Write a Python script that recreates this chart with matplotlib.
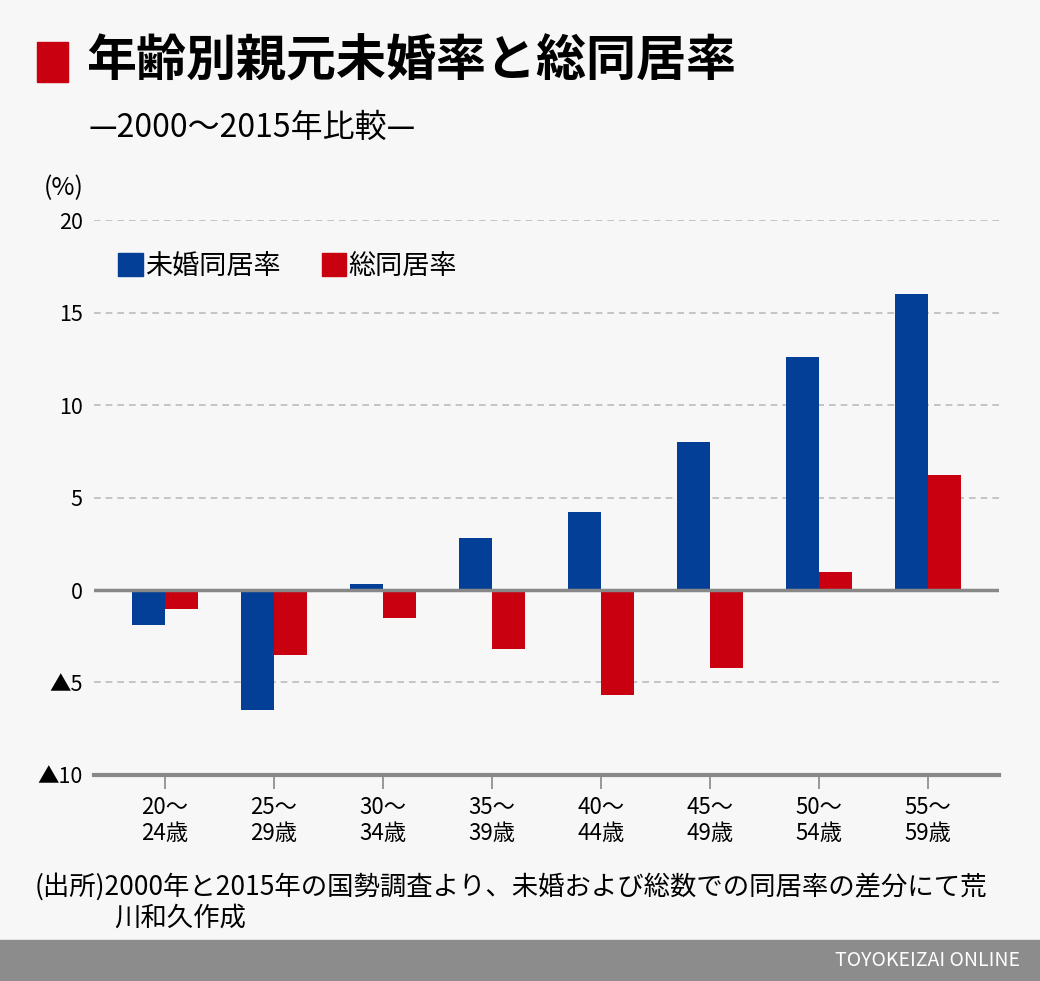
import matplotlib.pyplot as plt
from matplotlib.patches import Patch, Rectangle
import numpy as np

plt.rcParams['font.family'] = ['Noto Sans CJK JP', 'DejaVu Sans']

# data
ages = ["20〜\n24歳", "25〜\n29歳", "30〜\n34歳", "35〜\n39歳",
        "40〜\n44歳", "45〜\n49歳", "50〜\n54歳", "55〜\n59歳"]
unmarried = [-1.9, -6.5, 0.3, 2.8, 4.2, 8.0, 12.6, 16.0]
total = [-1.0, -3.5, -1.5, -3.2, -5.7, -4.2, 1.0, 6.2]
yticks = [-10, -5, 0, 5, 10, 15, 20]
ytick_labels = ["▲10", "▲5", "0", "5", "10", "15", "20"]

blue = "#033f97"
red = "#c8000f"
bg = "#f7f7f7"

fig = plt.figure(figsize=(10.4, 9.81), dpi=100, facecolor=bg)
ax = fig.add_axes([0.0904, 0.2100, 0.8702, 0.5657], facecolor=bg)

x = np.arange(len(ages))
w = 0.3
ax.bar(x - w / 2, unmarried, w, color=blue, zorder=3)
ax.bar(x + w / 2, total, w, color=red, zorder=3)

ax.set_xlim(-0.65, 7.65)
ax.set_ylim(-10, 20)
ax.set_yticks(yticks)
ax.set_yticklabels(ytick_labels, fontsize=15.5)
ax.set_xticks(x)
ax.set_xticklabels(ages, fontsize=16, linespacing=1.15)
ax.tick_params(axis="y", length=0, pad=8)
ax.tick_params(axis="x", length=10, width=1.2, color="#888888", pad=5)

for s in ax.spines.values():
    s.set_visible(False)
for v in [5, 10, 15, 20, -5]:
    ax.axhline(v, color="#bbbbbb", lw=1.2, ls=(0, (4, 3)), zorder=1)
ax.axhline(0, color="#888888", lw=2.5, zorder=4)
ax.axhline(-10, color="#888888", lw=3, zorder=4, clip_on=False)

handles = [Patch(color=blue, label="未婚同居率"), Patch(color=red, label="総同居率")]
ax.legend(handles=handles, loc="upper left", bbox_to_anchor=(0.0, 0.985), ncol=2,
          frameon=False, fontsize=19.5, handlelength=0.9, handleheight=0.9,
          handletextpad=0.1, columnspacing=1.5)

# title block
fig.patches.append(Rectangle((37 / 1040, 1 - 82 / 981), 31 / 1040, 40 / 981,
                             transform=fig.transFigure, color=red))
fig.text(86 / 1040, 1 - 62 / 981, "年齢別親元未婚率と総同居率", fontsize=36,
         fontweight="bold", va="center", ha="left")
fig.text(88 / 1040, 1 - 128 / 981, "—2000〜2015年比較—", fontsize=23,
         va="center", ha="left")
fig.text(44 / 1040, 1 - 188 / 981, "(%)", fontsize=18, va="center", ha="left")

# source note
fig.text(35 / 1040, 1 - 887 / 981,
         "(出所)2000年と2015年の国勢調査より、未婚および総数での同居率の差分にて荒",
         fontsize=19, va="center", ha="left")
fig.text(114 / 1040, 1 - 918 / 981, "川和久作成", fontsize=19, va="center", ha="left")

# bottom banner
fig.patches.append(Rectangle((0, 0), 1, 41 / 981, transform=fig.transFigure,
                             color="#8c8c8c"))
fig.text(1020 / 1040, 20 / 981, "TOYOKEIZAI ONLINE", fontsize=14, color="white",
         va="center", ha="right")

fig.savefig("out.png", dpi=100, facecolor=bg)
